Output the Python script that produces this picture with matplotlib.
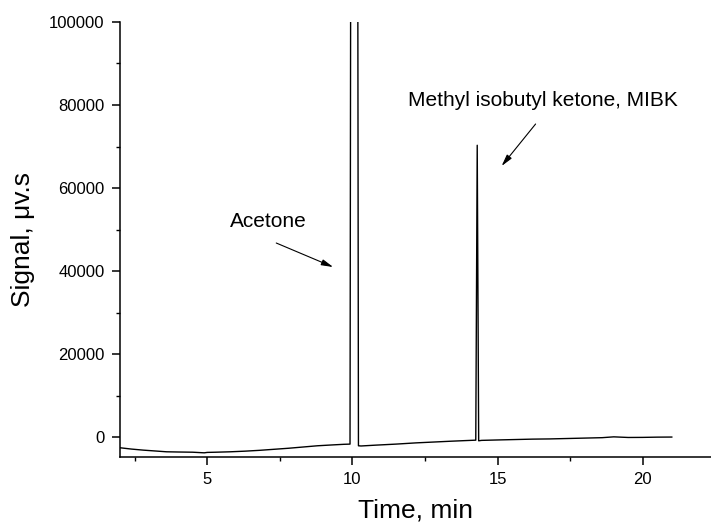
import matplotlib
matplotlib.use('Agg')
import matplotlib.pyplot as plt
from matplotlib.ticker import MultipleLocator

plt.rcParams['font.family'] = ['Liberation Sans', 'DejaVu Sans']

# chromatogram (peaks run off scale above 100000)
time_min = [2.0, 2.4, 2.8, 3.2, 3.6, 4.0, 4.5, 4.9, 5.0, 5.3, 5.8, 6.3, 6.8,
            7.3, 7.8, 8.3, 8.8, 9.3, 9.7, 9.92, 9.95, 10.18, 10.21, 10.3,
            10.8, 11.5, 12.2, 12.8, 13.4, 13.9, 14.25, 14.30, 14.35, 14.45,
            15.0, 15.6, 16.2, 16.8, 17.4, 18.0, 18.6, 19.0, 19.5, 20.0,
            20.5, 21.0]
signal = [-2580, -2900, -3150, -3350, -3550, -3600, -3650, -3800, -3700,
          -3650, -3550, -3400, -3200, -2950, -2700, -2400, -2100, -1900,
          -1750, -1700, 150000, 150000, -2100, -2150, -1950, -1700, -1400,
          -1200, -1000, -850, -750, 70300, -900, -800, -700, -600, -500,
          -450, -350, -250, -150, 50, -100, -80, -20, 0]

acetone_label = 'Acetone'
mibk_label = 'Methyl isobutyl ketone, MIBK'

fig = plt.figure(figsize=(7.11, 5.31), dpi=100)
ax = fig.add_axes([0.1688, 0.1394, 0.8312, 0.8192])

ax.plot(time_min, signal, color='black', lw=1.0)

ax.set_xlim(2.0, 22.35)
ax.set_ylim(-4800, 100000)

ax.xaxis.set_major_locator(MultipleLocator(5))
ax.xaxis.set_minor_locator(MultipleLocator(2.5))
ax.yaxis.set_major_locator(MultipleLocator(20000))
ax.yaxis.set_minor_locator(MultipleLocator(10000))

for side in ('top', 'right'):
    ax.spines[side].set_visible(False)
for side in ('left', 'bottom'):
    ax.spines[side].set_linewidth(1.1)

ax.tick_params(which='major', direction='out', length=6, width=1.1,
               labelsize=12, pad=5)
ax.tick_params(which='minor', direction='out', length=3, width=1.0)

ax.set_xlabel('Time, min', fontsize=19, labelpad=8)
ax.set_ylabel('Signal, \u03bcv.s', fontsize=19, labelpad=10)

arrow = dict(arrowstyle='-|>,head_length=0.7,head_width=0.18', lw=0.8,
             color='black', shrinkA=0, shrinkB=0)
ax.text(7.1, 52050, acetone_label, fontsize=15, ha='center', va='center')
ax.annotate('', xy=(9.34, 40960), xytext=(7.38, 46750), arrowprops=arrow)
ax.text(16.58, 81200, mibk_label, fontsize=15, ha='center', va='center')
ax.annotate('', xy=(15.14, 65300), xytext=(16.31, 75420), arrowprops=arrow)

plt.savefig('out.png', dpi=100)
